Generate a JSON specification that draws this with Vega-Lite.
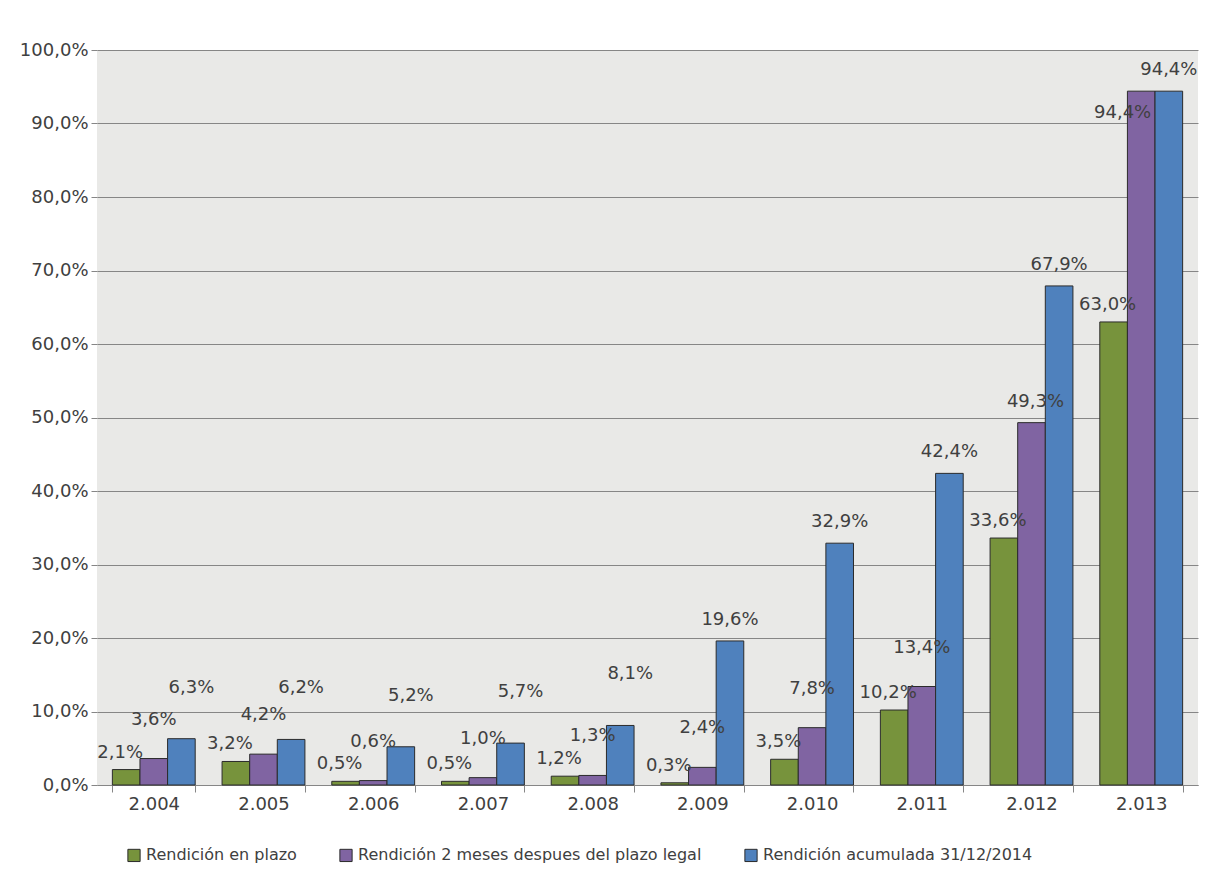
{
  "$schema": "https://vega.github.io/schema/vega-lite/v6.json",
  "autosize": "none",
  "width": 1101,
  "height": 735,
  "padding": {"left": 97, "top": 50, "right": 16, "bottom": 106},
  "background": "white",
  "config": {
    "locale": {"number": {"decimal": ",", "thousands": ".", "grouping": [3], "currency": ["", " €"]}},
    "font": "DejaVu Sans",
    "view": {"fill": "#e9e9e7", "stroke": null},
    "axis": {"labelFont": "DejaVu Sans", "labelFontSize": 18, "labelColor": "#404040"},
    "text": {"font": "DejaVu Sans", "fontSize": 18, "color": "#404040", "baseline": "bottom", "align": "center"}
  },
  "data": {
    "values": [
      {"anio": "2.004", "serie": "Rendición en plazo", "v": 0.021},
      {"anio": "2.004", "serie": "Rendición 2 meses despues del plazo legal", "v": 0.036},
      {"anio": "2.004", "serie": "Rendición acumulada 31/12/2014", "v": 0.063},
      {"anio": "2.005", "serie": "Rendición en plazo", "v": 0.032},
      {"anio": "2.005", "serie": "Rendición 2 meses despues del plazo legal", "v": 0.042},
      {"anio": "2.005", "serie": "Rendición acumulada 31/12/2014", "v": 0.062},
      {"anio": "2.006", "serie": "Rendición en plazo", "v": 0.005},
      {"anio": "2.006", "serie": "Rendición 2 meses despues del plazo legal", "v": 0.006},
      {"anio": "2.006", "serie": "Rendición acumulada 31/12/2014", "v": 0.052},
      {"anio": "2.007", "serie": "Rendición en plazo", "v": 0.005},
      {"anio": "2.007", "serie": "Rendición 2 meses despues del plazo legal", "v": 0.010},
      {"anio": "2.007", "serie": "Rendición acumulada 31/12/2014", "v": 0.057},
      {"anio": "2.008", "serie": "Rendición en plazo", "v": 0.012},
      {"anio": "2.008", "serie": "Rendición 2 meses despues del plazo legal", "v": 0.013},
      {"anio": "2.008", "serie": "Rendición acumulada 31/12/2014", "v": 0.081},
      {"anio": "2.009", "serie": "Rendición en plazo", "v": 0.003},
      {"anio": "2.009", "serie": "Rendición 2 meses despues del plazo legal", "v": 0.024},
      {"anio": "2.009", "serie": "Rendición acumulada 31/12/2014", "v": 0.196},
      {"anio": "2.010", "serie": "Rendición en plazo", "v": 0.035},
      {"anio": "2.010", "serie": "Rendición 2 meses despues del plazo legal", "v": 0.078},
      {"anio": "2.010", "serie": "Rendición acumulada 31/12/2014", "v": 0.329},
      {"anio": "2.011", "serie": "Rendición en plazo", "v": 0.102},
      {"anio": "2.011", "serie": "Rendición 2 meses despues del plazo legal", "v": 0.134},
      {"anio": "2.011", "serie": "Rendición acumulada 31/12/2014", "v": 0.424},
      {"anio": "2.012", "serie": "Rendición en plazo", "v": 0.336},
      {"anio": "2.012", "serie": "Rendición 2 meses despues del plazo legal", "v": 0.493},
      {"anio": "2.012", "serie": "Rendición acumulada 31/12/2014", "v": 0.679},
      {"anio": "2.013", "serie": "Rendición en plazo", "v": 0.630},
      {"anio": "2.013", "serie": "Rendición 2 meses despues del plazo legal", "v": 0.944},
      {"anio": "2.013", "serie": "Rendición acumulada 31/12/2014", "v": 0.944}
    ]
  },
  "encoding": {
    "x": {
      "field": "anio",
      "type": "nominal",
      "title": null,
      "scale": {"paddingInner": 0.245, "paddingOuter": 0.14},
      "axis": {
        "labelAngle": 0,
        "tickBand": "extent",
        "tickSize": 7,
        "tickColor": "#868686",
        "domainColor": "#868686",
        "labelPadding": 3,
        "grid": false
      }
    },
    "xOffset": {
      "field": "serie",
      "type": "nominal",
      "sort": ["Rendición en plazo", "Rendición 2 meses despues del plazo legal", "Rendición acumulada 31/12/2014"]
    },
    "y": {
      "field": "v",
      "type": "quantitative",
      "title": null,
      "scale": {"domain": [0, 1], "nice": false},
      "axis": {
        "format": ".1%",
        "values": [0, 0.1, 0.2, 0.3, 0.4, 0.5, 0.6, 0.7, 0.8, 0.9, 1.0],
        "domain": false,
        "tickSize": 6,
        "tickColor": "#868686",
        "gridColor": "#868686",
        "gridWidth": 1,
        "labelPadding": 3
      }
    },
    "text": {"field": "v", "type": "quantitative", "format": ".1%"}
  },
  "layer": [
    {
      "mark": {"type": "bar", "stroke": "#2b2b2b", "strokeWidth": 1},
      "encoding": {
        "text": null,
        "color": {
          "field": "serie",
          "type": "nominal",
          "title": null,
          "scale": {
            "domain": ["Rendición en plazo", "Rendición 2 meses despues del plazo legal", "Rendición acumulada 31/12/2014"],
            "range": ["#77933c", "#8064a2", "#4f81bd"]
          },
          "legend": {
            "orient": "none",
            "direction": "horizontal",
            "legendX": 29,
            "legendY": 797,
            "symbolType": "square",
            "symbolSize": 150,
            "symbolStrokeColor": "#2b2b2b",
            "symbolStrokeWidth": 1,
            "symbolOpacity": 1,
            "labelFont": "DejaVu Sans",
            "labelFontSize": 16,
            "labelColor": "#404040",
            "labelLimit": 600,
            "labelOffset": 4,
            "columnPadding": 40
          }
        }
      }
    },
    {
      "transform": [{"filter": "datum.serie == 'Rendición en plazo'"}],
      "mark": {"type": "text", "dy": -8, "dx": -6}
    },
    {
      "transform": [{"filter": "datum.serie == 'Rendición 2 meses despues del plazo legal' && datum.v < 0.2"}],
      "mark": {"type": "text", "dy": -30}
    },
    {
      "transform": [{"filter": "datum.serie == 'Rendición 2 meses despues del plazo legal' && datum.v >= 0.2 && datum.v < 0.9"}],
      "mark": {"type": "text", "dy": -12, "dx": 4}
    },
    {
      "transform": [{"filter": "datum.serie == 'Rendición 2 meses despues del plazo legal' && datum.v >= 0.9"}],
      "mark": {"type": "text", "align": "right", "baseline": "middle", "dx": 10, "dy": 22}
    },
    {
      "transform": [{"filter": "datum.serie == 'Rendición acumulada 31/12/2014' && datum.v < 0.15"}],
      "mark": {"type": "text", "dy": -42, "dx": 10}
    },
    {
      "transform": [{"filter": "datum.serie == 'Rendición acumulada 31/12/2014' && datum.v >= 0.15"}],
      "mark": {"type": "text", "dy": -12}
    }
  ]
}
